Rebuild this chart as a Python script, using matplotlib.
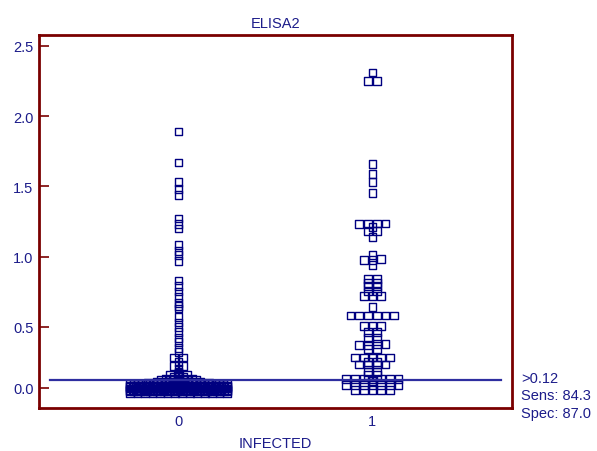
import numpy as np
import matplotlib
matplotlib.use('Agg')
import matplotlib.pyplot as plt

plt.rcParams['font.family'] = ['Liberation Sans', 'DejaVu Sans']

# ELISA2 readings, infected = 0 (dense cluster of low readings as value / count)
low0_values = [0.03, 0.04, 0.05, 0.06, 0.07, 0.08, 0.09, 0.10, 0.11, 0.12]
low0_counts = [14, 30, 36, 36, 36, 32, 26, 8, 6, 5]
high0_values = [1.89, 1.67, 1.53, 1.48, 1.44, 1.27, 1.23, 1.20, 1.08, 1.04,
                1.01, 0.97, 0.83, 0.79, 0.75, 0.71, 0.67, 0.65, 0.63, 0.57,
                0.53, 0.50, 0.46, 0.42, 0.39, 0.35, 0.32, 0.28, 0.28, 0.25,
                0.22, 0.22, 0.20, 0.18, 0.17, 0.16, 0.16, 0.16, 0.15, 0.14,
                0.14, 0.13, 0.13, 0.13, 0.13]

# ELISA2 readings, infected = 1
group1_values = [2.31, 2.25, 2.25, 1.66, 1.59, 1.53, 1.45,
                 1.23, 1.23, 1.235, 1.235, 1.21, 1.18, 1.18, 1.14, 1.01,
                 0.975, 0.975, 0.98, 0.94, 0.84, 0.84, 0.81, 0.81, 0.79, 0.79,
                 0.75, 0.75, 0.72, 0.72, 0.72, 0.64,
                 0.58, 0.58, 0.58, 0.58, 0.58, 0.58, 0.505, 0.505, 0.505,
                 0.46, 0.46, 0.42, 0.42, 0.37, 0.37, 0.375, 0.375, 0.34, 0.34,
                 0.28, 0.28, 0.28, 0.28, 0.28, 0.25, 0.25, 0.23, 0.23, 0.23, 0.23,
                 0.18, 0.18, 0.155, 0.155,
                 0.13, 0.13, 0.13, 0.13, 0.13, 0.13, 0.13, 0.115,
                 0.085, 0.085, 0.085, 0.085, 0.085, 0.085, 0.085,
                 0.05, 0.05, 0.05, 0.05, 0.05]

groups = [0, 1]
group_labels = ['0', '1']
cutoff = 0.12
stats_text = ['>0.12', 'Sens: 84.3', 'Spec: 87.0']
ytick_pos = [0.065, 0.5, 1.0, 1.5, 2.0, 2.5]
ytick_labels = ['0.0', '0.5', '1.0', '1.5', '2.0', '2.5']

navy = '#1c1c8a'
frame = '#7a0000'


def swarm_offsets(vals, h=0.0095, step=0.045, max_w=0.5):
    # put near-equal values side by side in rows, squeezing wide rows
    vals = np.asarray(vals)
    order = np.argsort(vals, kind='stable')
    offs = np.zeros(len(vals))
    rows, cur, start = [], [], None
    for i in order:
        if start is None or vals[i] > start + h:
            if cur:
                rows.append(cur)
            cur, start = [i], vals[i]
        else:
            cur.append(i)
    rows.append(cur)
    for r in rows:
        n = len(r)
        if n > 1:
            sp = min(step, max_w / (n - 1))
            offs[r] = (np.arange(n) - (n - 1) / 2) * sp
    return offs


group0_values = np.concatenate([np.repeat(low0_values, low0_counts), high0_values])
data = [group0_values, np.array(group1_values)]

fig = plt.figure(figsize=(5.97, 4.52), dpi=100)
ax = fig.add_axes([39 / 597, 1 - 409 / 452, 473 / 597, 373 / 452])

for g, vals in zip(groups, data):
    x = g + swarm_offsets(vals)
    ax.scatter(x, vals, marker='s', s=31, facecolors='none',
               edgecolors='#000080', linewidths=1.0, zorder=3)

ax.plot([-0.665, 1.665], [cutoff, cutoff], color='#2e2ea0', lw=1.6, zorder=4)

ax.set_xlim(-0.72, 1.72)
ax.set_ylim(-0.079, 2.578)
ax.set_xticks(groups)
ax.set_xticklabels(group_labels)
ax.set_yticks(ytick_pos)
ax.set_yticklabels(ytick_labels)

ax.tick_params(axis='y', direction='in', length=7.5, width=1.2, color=frame,
               labelcolor=navy, labelsize=10.5, pad=4)
ax.tick_params(axis='x', length=0, labelcolor=navy, labelsize=10.5, pad=4)
for sp in ax.spines.values():
    sp.set_color(frame)
    sp.set_linewidth(2.0)

ax.set_title('ELISA2', color=navy, fontsize=10.5, pad=6)
ax.set_xlabel('INFECTED', color=navy, fontsize=10.5, labelpad=6)

for i, t in enumerate(stats_text):
    fig.text(521 / 597, 1 - (372 + 17.5 * i) / 452, t, color=navy,
             fontsize=10.5, ha='left', va='top')

fig.savefig('out.png', dpi=100)
